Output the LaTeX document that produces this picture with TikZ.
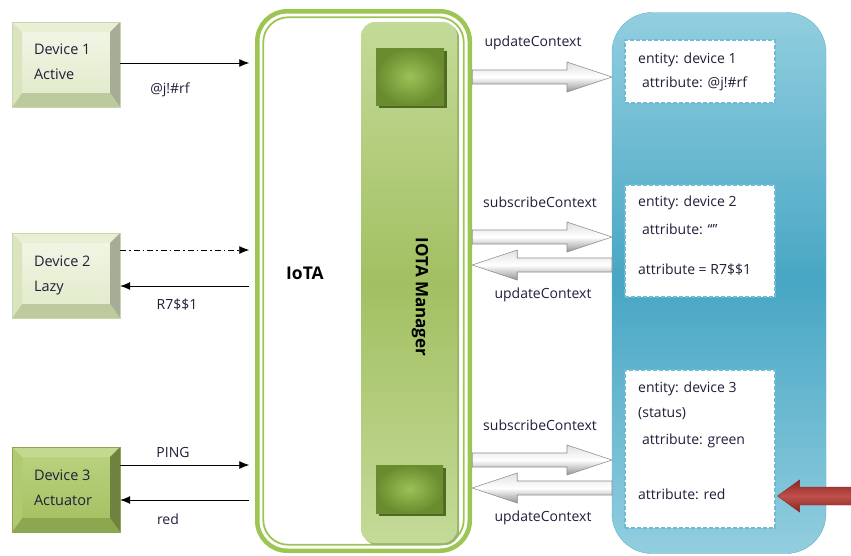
\documentclass[tikz,border=0pt]{standalone}
\usepackage{fontspec}
\setmainfont{Open Sans}
\usetikzlibrary{positioning,calc,arrows.meta}

\definecolor{framegreen}{HTML}{9DC554}
\definecolor{mgrlight}{HTML}{C4DA98}
\definecolor{mgrmid}{HTML}{A2C062}
\definecolor{mgrshadow}{HTML}{9BB46A}
\definecolor{sqouter}{HTML}{6A8C2E}
\definecolor{sqinner}{HTML}{9CC157}
\definecolor{sqshadow}{HTML}{4F6A22}
\definecolor{ctxlight}{HTML}{92CEDF}
\definecolor{ctxmid}{HTML}{47A6C4}
\definecolor{ctxborder}{HTML}{62B2CA}
\definecolor{entborder}{HTML}{6EBBD2}
\definecolor{redarrow}{HTML}{C0504B}
\definecolor{reddark}{HTML}{8A2622}
\definecolor{txtblue}{HTML}{1F1F3A}
% light devices
\definecolor{liteTopFace}{HTML}{F3F7E8}
\definecolor{liteBotFace}{HTML}{DFE9C6}
\definecolor{liteTop}{HTML}{E8EFD4}
\definecolor{liteRight}{HTML}{A7AC96}
\definecolor{liteBottom}{HTML}{BCCA9E}
\definecolor{liteLeft}{HTML}{DAE5BF}
\definecolor{liteEdge}{HTML}{C9D7AC}
% actuator device
\definecolor{darkTopFace}{HTML}{BAD381}
\definecolor{darkBotFace}{HTML}{A3BF5E}
\definecolor{darkTop}{HTML}{C3D98F}
\definecolor{darkRight}{HTML}{6F8240}
\definecolor{darkBottom}{HTML}{8DA751}
\definecolor{darkLeft}{HTML}{B0CA72}
\definecolor{darkEdge}{HTML}{8DA751}

% bevel: top, right, bottom, left
\newcommand\bevel[4]{%
  \coordinate (bnw) at (path picture bounding box.north west);
  \coordinate (bse) at (path picture bounding box.south east);
  \fill[#1] (bnw) -- (bse |- bnw) -- ++(-10,10) -- ($(bnw)+(10,10)$) -- cycle;
  \fill[#2] (bse |- bnw) -- (bse) -- ++(-10,-14) -- ($(bse |- bnw)+(-10,10)$) -- cycle;
  \fill[#3] (bnw |- bse) -- (bse) -- ++(-10,-14) -- ($(bnw |- bse)+(10,-14)$) -- cycle;
  \fill[#4] (bnw) -- (bnw |- bse) -- ++(10,-14) -- ($(bnw)+(10,10)$) -- cycle;
}

% fat block arrow: [style]{tail}{tip}{head length}{shaft half}{head half}
\newcommand\fatarrow[6][]{%
  \path[#1] let \p1=(#2), \p2=(#3), \n1={ifthenelse(\x2>\x1,#4,-#4)} in
    (\x1,{\y1+#5pt}) -- ({\x2-\n1*1pt},{\y1+#5pt}) -- ({\x2-\n1*1pt},{\y1+#6pt})
    -- (\x2,\y1) -- ({\x2-\n1*1pt},{\y1-#6pt}) -- ({\x2-\n1*1pt},{\y1-#5pt})
    -- (\x1,{\y1-#5pt}) -- cycle;
}

\tikzset{
  lbl/.style={font=\fontsize{14}{17}\selectfont, text=txtblue, inner sep=0pt},
  devtext/.style={lbl, align=left, font=\fontsize{14.5}{25}\selectfont, anchor=west},
  devlite/.style={minimum width=108pt, minimum height=85pt, inner sep=0pt,
    top color=liteTopFace, bottom color=liteBotFace, draw=liteEdge,
    path picture={\bevel{liteTop}{liteRight}{liteBottom}{liteLeft}}},
  devdark/.style={minimum width=108pt, minimum height=85pt, inner sep=0pt,
    top color=darkTopFace, bottom color=darkBotFace, draw=darkEdge,
    path picture={\bevel{darkTop}{darkRight}{darkBottom}{darkLeft}}},
  msg/.style={line width=0.8pt, -{Latex[length=10pt,width=8pt]}},
  entbox/.style={draw=entborder, fill=white, line width=1.1pt,
    dash pattern=on 4pt off 2pt, minimum width=150pt, inner sep=0pt},
  enttext/.style={lbl, anchor=west},
  sqbox/.style={inner sep=0pt, shading=radial, inner color=sqinner, outer color=sqouter},
  grayarrow/.style={top color=black!12, bottom color=black!42, middle color=white,
    draw=black!45, line width=0.6pt},
}

\begin{document}
\begin{tikzpicture}[x=1pt, y=-1pt]
  \useasboundingbox (0,0) rectangle (851,555);

  % devices
  \node[devlite] (dev1) at (66,64.5) {};
  \node[devtext] (dev1txt) at ([xshift=22pt,yshift=3pt]dev1.west) {Device 1\\Active};
  \node[devlite] (dev2) at (66,275.5) {};
  \node[devtext] (dev2txt) at ([xshift=22pt]dev2.west) {Device 2\\Lazy};
  \node[devdark] (dev3) at (66,489.5) {};
  \node[devtext] (dev3txt) at ([xshift=22pt,yshift=2pt]dev3.west) {Device 3\\Actuator};

  % IoTA frame
  \node[draw=framegreen, line width=4.5pt, rounded corners=30pt, outer sep=0pt,
    minimum width=212.5pt, minimum height=539.5pt] (iota) at (363.5,281) {};
  \draw[framegreen, line width=1.8pt, rounded corners=25pt]
    ([shift={(6,6)}]iota.north west) rectangle ([shift={(-6,-6)}]iota.south east);
  \node[lbl, font=\fontsize{17.5}{20}\selectfont\bfseries, text=black] (iotalabel) at (305,273) {IoTA};

  % IOTA manager
  \fill[mgrshadow, rounded corners=14pt] (363,24) rectangle (459,545);
  \node[top color=mgrlight, bottom color=mgrlight, middle color=mgrmid,
    rounded corners=14pt, minimum width=96pt, minimum height=521pt] (mgr) at (409,282.5) {};
  \node[lbl, font=\fontsize{17}{20}\selectfont\bfseries, text=black, rotate=-90] (mgrlabel) at (420,297) {IOTA Manager};
  \fill[sqshadow] (379,51) rectangle (447,108);
  \node[sqbox, minimum width=68pt, minimum height=57pt] (sq1) at (410,76.5) {};
  \fill[sqshadow] (379,468) rectangle (446,516);
  \node[sqbox, minimum width=67pt, minimum height=48pt] (sq2) at (409.5,489) {};

  % context broker
  \node[top color=ctxlight, bottom color=ctxlight, middle color=ctxmid, draw=ctxborder,
    rounded corners=40pt, outer sep=0pt, minimum width=214pt, minimum height=541pt] (ctx) at (719,283) {};
  \node[entbox, minimum height=63pt] (ent1) at (700,71.5) {};
  \node[entbox, minimum height=112pt] (ent2) at (700,241) {};
  \node[entbox, minimum height=158pt] (ent3) at (700,449) {};

  \node[enttext] (e1a) at (638,60) {entity: device 1};
  \node[enttext] (e1b) at (642,84) {attribute: @j!\#rf};
  \node[enttext] (e2a) at (638,203) {entity: device 2};
  \node[enttext] (e2b) at (642,229) {attribute: “”};
  \node[enttext] (e2c) at (638,270) {attribute = R7\$\$1};
  \node[enttext] (e3a) at (638,389) {entity: device 3};
  \node[enttext] (e3b) at (638,414) {(status)};
  \node[enttext] (e3c) at (642,441) {attribute: green};
  \node[enttext] (e3d) at (638,494) {attribute: red};

  % device messages
  \coordinate (m1) at (0,63);
  \coordinate (m2) at (0,250);
  \coordinate (m3) at (0,286);
  \coordinate (m4) at (0,465);
  \coordinate (m5) at (0,500);
  \draw[msg] (dev1.east |- m1) -- ([xshift=-8pt]iota.west |- m1);
  \draw[msg, dash pattern=on 6pt off 3pt on 1.5pt off 3pt] (dev2.east |- m2) -- ([xshift=-8pt]iota.west |- m2);
  \draw[msg] ([xshift=-8pt]iota.west |- m3) -- (dev2.east |- m3);
  \draw[msg] (dev3.east |- m4) -- ([xshift=-8pt]iota.west |- m4);
  \draw[msg] ([xshift=-8pt]iota.west |- m5) -- (dev3.east |- m5);
  \node[lbl] (l1) at (170,90) {@j!\#rf};
  \node[lbl] (l2) at (177,305) {R7\$\$1};
  \node[lbl] (l3) at (173,452) {PING};
  \node[lbl] (l4) at (168,519) {red};

  % context messages
  \coordinate (c1) at (0,77);
  \coordinate (c2) at (0,237);
  \coordinate (c3) at (0,265);
  \coordinate (c4) at (0,460);
  \coordinate (c5) at (0,488);
  \fatarrow[grayarrow]{[xshift=2.5pt]iota.east |- c1}{ctx.west |- c1}{45}{7}{15}
  \fatarrow[grayarrow]{[xshift=2.5pt]iota.east |- c2}{ctx.west |- c2}{45}{7}{15}
  \fatarrow[grayarrow]{ctx.west |- c3}{[xshift=2.5pt]iota.east |- c3}{45}{7}{15}
  \fatarrow[grayarrow]{[xshift=2.5pt]iota.east |- c4}{ctx.west |- c4}{45}{7}{15}
  \fatarrow[grayarrow]{ctx.west |- c5}{[xshift=2.5pt]iota.east |- c5}{45}{7}{15}
  \node[lbl] (u1) at (533,43) {updateContext};
  \node[lbl] (s2) at (540,202) {subscribeContext};
  \node[lbl] (u2) at (543,295) {updateContext};
  \node[lbl] (s3) at (540,425) {subscribeContext};
  \node[lbl] (u3) at (543,518) {updateContext};

  % incoming change
  \coordinate (redtail) at (851,496);
  \fatarrow[top color=reddark, bottom color=reddark, middle color=redarrow, draw=reddark]{redtail}{[xshift=2pt]ent3.east |- redtail}{22}{9}{16}
\end{tikzpicture}
\end{document}
